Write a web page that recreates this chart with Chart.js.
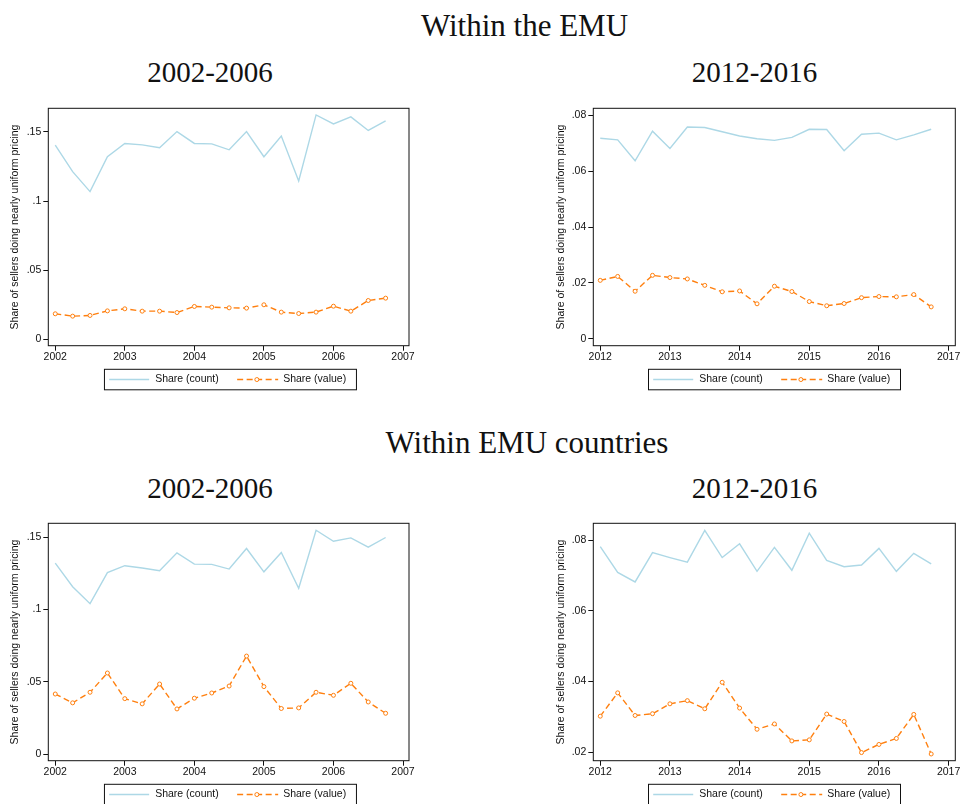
<!DOCTYPE html>
<html>
<head>
<meta charset="utf-8">
<script src="https://cdn.jsdelivr.net/npm/chart.js@4.4.1/dist/chart.umd.min.js"></script>
<style>
  html, body { margin: 0; padding: 0; background: #fff; overflow: hidden; }
  body { width: 964px; height: 804px; position: relative; }
  .ttl { position: absolute; font-family: 'Liberation Serif', 'Times New Roman', serif; color: #111;
         text-align: center; white-space: nowrap; }
  .main { font-size: 31px; line-height: 31px; width: 600px; }
  .sub  { font-size: 29px; line-height: 29px; width: 300px; }
  canvas { position: absolute; }
</style>
</head>
<body>
<div class="ttl main" style="left:224.5px; top:9.7px;">Within the EMU</div>
<div class="ttl sub" style="left:60px; top:58.4px;">2002-2006</div>
<div class="ttl sub" style="left:604.5px; top:58.4px;">2012-2016</div>
<div class="ttl main" style="left:227px; top:426.7px;">Within EMU countries</div>
<div class="ttl sub" style="left:60px; top:474px;">2002-2006</div>
<div class="ttl sub" style="left:604.5px; top:474px;">2012-2016</div>

<canvas id="emu0206" width="420" height="300" style="left:0px; top:100px;"></canvas>
<canvas id="emu1216" width="424" height="300" style="left:540px; top:100px;"></canvas>
<canvas id="cty0206" width="420" height="300" style="left:0px; top:515px;"></canvas>
<canvas id="cty1216" width="424" height="300" style="left:540px; top:515px;"></canvas>

<script>
// Quarterly periods (year + quarter/4)
const quarters0206 = [2002, 2002.25, 2002.5, 2002.75, 2003, 2003.25, 2003.5, 2003.75,
                      2004, 2004.25, 2004.5, 2004.75, 2005, 2005.25, 2005.5, 2005.75,
                      2006, 2006.25, 2006.5, 2006.75];
const quarters1216 = [2012, 2012.25, 2012.5, 2012.75, 2013, 2013.25, 2013.5, 2013.75,
                      2014, 2014.25, 2014.5, 2014.75, 2015, 2015.25, 2015.5, 2015.75,
                      2016, 2016.25, 2016.5, 2016.75];

// Within the EMU
const emuCount0206 = [0.1404, 0.1212, 0.1068, 0.1320, 0.1416, 0.1406, 0.1385, 0.1502,
                      0.1416, 0.1413, 0.1370, 0.1502, 0.1320, 0.1469, 0.1145, 0.1622,
                      0.1557, 0.1608, 0.1510, 0.1579];
const emuValue0206 = [0.0185, 0.0168, 0.0173, 0.0206, 0.0221, 0.0204, 0.0204, 0.0194,
                      0.0238, 0.0233, 0.0228, 0.0226, 0.0250, 0.0197, 0.0187, 0.0197,
                      0.0240, 0.0204, 0.0281, 0.0298];
const emuCount1216 = [0.0718, 0.0712, 0.0637, 0.0743, 0.0681, 0.0758, 0.0756, 0.0741,
                      0.0726, 0.0716, 0.0710, 0.0721, 0.0750, 0.0749, 0.0673, 0.0732,
                      0.0736, 0.0712, 0.0730, 0.0750];
const emuValue1216 = [0.0209, 0.0223, 0.0170, 0.0227, 0.0219, 0.0214, 0.0191, 0.0168,
                      0.0171, 0.0125, 0.0188, 0.0169, 0.0133, 0.0118, 0.0126, 0.0147,
                      0.0151, 0.0150, 0.0158, 0.0114];

// Within EMU countries
const ctyCount0206 = [0.1321, 0.1158, 0.1041, 0.1255, 0.1303, 0.1287, 0.1268, 0.1392,
                      0.1314, 0.1312, 0.1280, 0.1422, 0.1261, 0.1394, 0.1147, 0.1548,
                      0.1472, 0.1495, 0.1431, 0.1498];
const ctyValue0206 = [0.0417, 0.0356, 0.0429, 0.0562, 0.0385, 0.0349, 0.0486, 0.0314,
                      0.0388, 0.0424, 0.0472, 0.0679, 0.0468, 0.0317, 0.0321, 0.0429,
                      0.0408, 0.0491, 0.0362, 0.0284];
const ctyCount1216 = [0.0782, 0.0709, 0.0682, 0.0765, 0.0751, 0.0738, 0.0828, 0.0751,
                      0.0790, 0.0712, 0.0780, 0.0715, 0.0820, 0.0743, 0.0725, 0.0730,
                      0.0777, 0.0712, 0.0763, 0.0733];
const ctyValue1216 = [0.0302, 0.0368, 0.0304, 0.0309, 0.0337, 0.0346, 0.0323, 0.0398,
                      0.0325, 0.0265, 0.0280, 0.0232, 0.0235, 0.0308, 0.0287, 0.0199,
                      0.0222, 0.0239, 0.0307, 0.0195];

// Axis ticks and their labels
const xTicks0206 = [2002, 2003, 2004, 2005, 2006, 2007];
const xTicks1216 = [2012, 2013, 2014, 2015, 2016, 2017];
const yTicksA = [0, 0.05, 0.1, 0.15];
const yLabelsA = ['0', '.05', '.1', '.15'];
const yTicksB = [0, 0.02, 0.04, 0.06, 0.08];
const yLabelsB = ['0', '.02', '.04', '.06', '.08'];
const yTicksC = [0.02, 0.04, 0.06, 0.08];
const yLabelsC = ['.02', '.04', '.06', '.08'];

const seriesNames = ['Share (count)', 'Share (value)'];
const yTitle = 'Share of sellers doing nearly uniform pricing';

const SANS = "'Liberation Sans', Arial, Helvetica, sans-serif";
const INK = '#111';
const COUNT_COLOR = '#add8e6';
const VALUE_COLOR = '#ff7f0e';

// Box around the plot region
const frame = {
  id: 'frame',
  beforeDatasetsDraw(chart) {
    const { ctx, chartArea: a } = chart;
    ctx.save();
    ctx.strokeStyle = INK;
    ctx.lineWidth = 1;
    ctx.strokeRect(a.left, a.top, a.right - a.left, a.bottom - a.top);
    ctx.restore();
  }
};

// Boxed legend under the x axis
const legendBox = {
  id: 'legendBox',
  afterDraw(chart, args, opts) {
    const { ctx, chartArea: a } = chart;
    const ds = chart.data.datasets;
    const w = 252, h = 20.5;
    const x0 = (a.left + a.right) / 2 + (opts.shift || 0) - w / 2;
    const y0 = a.bottom + 23.6;
    const ym = y0 + h / 2;
    ctx.save();
    ctx.strokeStyle = INK;
    ctx.lineWidth = 1;
    ctx.strokeRect(x0, y0, w, h);

    ctx.font = '10.5px ' + SANS;
    ctx.fillStyle = INK;
    ctx.textBaseline = 'middle';
    ctx.textAlign = 'left';

    ctx.strokeStyle = ds[0].borderColor;
    ctx.lineWidth = ds[0].borderWidth;
    ctx.beginPath();
    ctx.moveTo(x0 + 4.7, ym);
    ctx.lineTo(x0 + 44.7, ym);
    ctx.stroke();
    ctx.fillText(ds[0].label, x0 + 50.7, ym);

    ctx.strokeStyle = ds[1].borderColor;
    ctx.lineWidth = ds[1].borderWidth;
    ctx.setLineDash(ds[1].borderDash);
    ctx.beginPath();
    ctx.moveTo(x0 + 132.7, ym);
    ctx.lineTo(x0 + 173.7, ym);
    ctx.stroke();
    ctx.setLineDash([]);
    ctx.beginPath();
    ctx.arc(x0 + 152.4, ym, ds[1].pointRadius, 0, Math.PI * 2);
    ctx.fillStyle = ds[1].pointBackgroundColor;
    ctx.fill();
    ctx.lineWidth = ds[1].pointBorderWidth;
    ctx.stroke();
    ctx.fillStyle = INK;
    ctx.fillText(ds[1].label, x0 + 178.7, ym);
    ctx.restore();
  }
};

function pairs(xs, ys) {
  return xs.map((x, i) => ({ x: x, y: ys[i] }));
}

function makePanel(id, cfg) {
  new Chart(document.getElementById(id), {
    type: 'line',
    data: {
      datasets: [
        {
          label: seriesNames[0],
          data: pairs(cfg.periods, cfg.count),
          borderColor: COUNT_COLOR,
          borderWidth: 1.4,
          pointRadius: 0,
          tension: 0,
          fill: false
        },
        {
          label: seriesNames[1],
          data: pairs(cfg.periods, cfg.value),
          borderColor: VALUE_COLOR,
          borderWidth: 1.4,
          borderDash: [6, 3.5],
          pointRadius: 2,
          pointBorderWidth: 1,
          pointBorderColor: VALUE_COLOR,
          pointBackgroundColor: '#fff',
          tension: 0,
          fill: false
        }
      ]
    },
    options: {
      responsive: false,
      animation: false,
      devicePixelRatio: 1,
      layout: { padding: { left: 0, top: 7.3, right: cfg.padRight, bottom: 34.3 } },
      plugins: {
        legend: { display: false },
        tooltip: { enabled: false },
        legendBox: { shift: cfg.legendShift }
      },
      scales: {
        x: {
          type: 'linear',
          min: cfg.xMin,
          max: cfg.xMax,
          afterBuildTicks: s => { s.ticks = cfg.xTicks.map(v => ({ value: v })); },
          afterFit: s => { s.height = 20; },
          grid: { drawOnChartArea: false, drawTicks: true, tickLength: 5, color: INK, lineWidth: 1 },
          border: { display: false },
          ticks: {
            font: { family: SANS, size: 10.5 },
            color: INK,
            padding: 0,
            maxRotation: 0,
            autoSkip: false,
            callback: v => String(v)
          }
        },
        y: {
          type: 'linear',
          min: cfg.yMin,
          max: cfg.yMax,
          afterBuildTicks: s => { s.ticks = cfg.yTicks.map(v => ({ value: v })); },
          afterFit: s => { s.width = cfg.yWidth; },
          grid: { drawOnChartArea: false, drawTicks: true, tickLength: 5, color: INK, lineWidth: 1 },
          border: { display: false },
          title: {
            display: true,
            text: yTitle,
            font: { family: SANS, size: 10.5 },
            color: INK,
            padding: { top: cfg.titlePad, bottom: 0 }
          },
          ticks: {
            font: { family: SANS, size: 10.5 },
            color: INK,
            padding: 2,
            autoSkip: false,
            callback: (v, i) => cfg.yLabels[i]
          }
        }
      }
    },
    plugins: [frame, legendBox]
  });
}

makePanel('emu0206', {
  periods: quarters0206, count: emuCount0206, value: emuValue0206,
  xMin: 2001.9, xMax: 2007.086, xTicks: xTicks0206,
  yMin: -0.00456, yMax: 0.167, yTicks: yTicksA, yLabels: yLabelsA,
  yWidth: 48.3, titlePad: 9.2, padRight: 11, legendShift: 1.8
});
makePanel('emu1216', {
  periods: quarters1216, count: emuCount1216, value: emuValue1216,
  xMin: 2011.9, xMax: 2017.096, xTicks: xTicks1216,
  yMin: -0.0025, yMax: 0.0825, yTicks: yTicksB, yLabels: yLabelsB,
  yWidth: 53.3, titlePad: 14.4, padRight: 8.7, legendShift: 0.2
});
makePanel('cty0206', {
  periods: quarters0206, count: ctyCount0206, value: ctyValue0206,
  xMin: 2001.9, xMax: 2007.086, xTicks: xTicks0206,
  yMin: -0.00436, yMax: 0.1596, yTicks: yTicksA, yLabels: yLabelsA,
  yWidth: 48.3, titlePad: 9.2, padRight: 11, legendShift: 1.8
});
makePanel('cty1216', {
  periods: quarters1216, count: ctyCount1216, value: ctyValue1216,
  xMin: 2011.9, xMax: 2017.096, xTicks: xTicks1216,
  yMin: 0.0176, yMax: 0.0848, yTicks: yTicksC, yLabels: yLabelsC,
  yWidth: 53.3, titlePad: 14.4, padRight: 8.7, legendShift: 0.2
});
</script>
</body>
</html>
